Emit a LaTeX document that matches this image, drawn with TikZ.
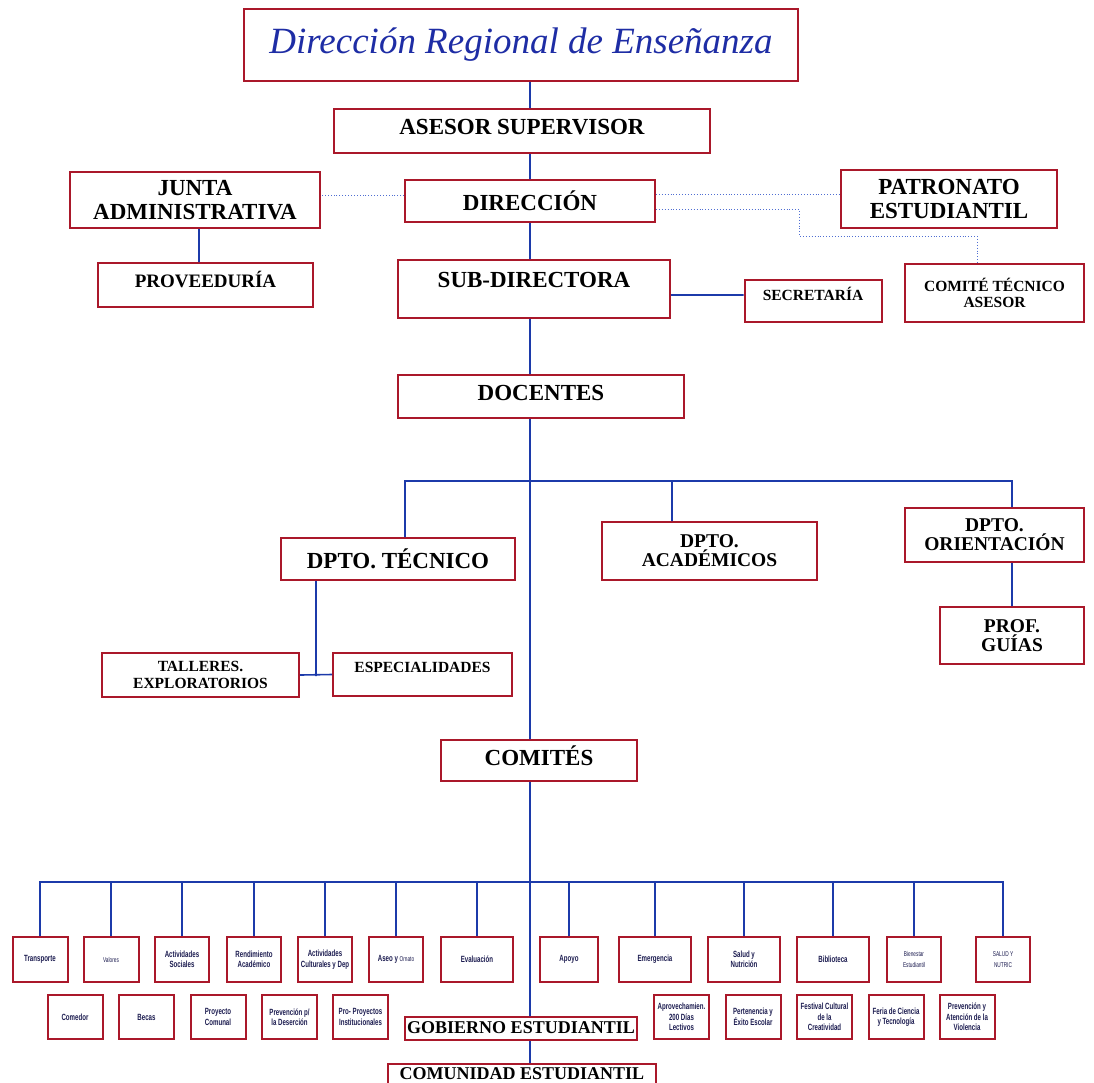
\documentclass[tikz,border=0pt]{standalone}
\usepackage{fontspec}
\setmainfont{Liberation Serif}
\newfontfamily\tituloface{Liberation Serif}
\newfontfamily\comitefont[FakeStretch=0.68]{Liberation Sans}
\newcommand\lightfont{\mdseries\fontsize{7}{8}\selectfont}

\definecolor{rojo}{RGB}{170,24,42}
\definecolor{azul}{RGB}{28,58,170}
\definecolor{azultit}{RGB}{30,45,165}
\definecolor{marino}{RGB}{28,28,80}
\definecolor{punteado}{RGB}{80,110,210}

\tikzstyle{box}=[draw=rojo,line width=2pt,fill=white,inner sep=0pt,align=center,text=black]
\tikzstyle{big}=[font=\bfseries\fontsize{23}{24}\selectfont]
\tikzstyle{mid}=[font=\bfseries\fontsize{19.5}{19}\selectfont]
\tikzstyle{sm}=[font=\bfseries\fontsize{15.5}{16.5}\selectfont]
\tikzstyle{sbox}=[box,minimum height=45,text=marino,font=\comitefont\bfseries\fontsize{9}{10.5}\selectfont]
\tikzstyle{conn}=[draw=azul,line width=1.6pt]
\tikzstyle{dots}=[draw=punteado,line width=0.9pt,dotted]

\begin{document}
\begin{tikzpicture}[x=1pt,y=-1pt]
\useasboundingbox (0,0) rectangle (1094,1082);

        % cabecera
        \node[box,minimum width=554,minimum height=72,text=azultit,font=\tituloface\itshape\fontsize{37}{39}\selectfont] (titulo) at (521,45) {Dirección Regional de Enseñanza};
        \node[box,big,minimum width=376,minimum height=44,text height=25,text depth=19] (asesor) at (522,131) {ASESOR SUPERVISOR};

        \node[box,big,minimum width=250,minimum height=56] (junta) at (195,200) {JUNTA\\ADMINISTRATIVA};
        \node[box,big,minimum width=250,minimum height=42] (dir) at (530,201) {DIRECCIÓN};
        \node[box,big,minimum width=216,minimum height=58] (patronato) at (949,199) {PATRONATO\\ESTUDIANTIL};

        \node[box,font=\bfseries\fontsize{19}{20}\selectfont,minimum width=215,minimum height=44,text height=24,text depth=20] (prov) at (205.5,285) {PROVEEDURÍA};
        \node[box,big,minimum width=272,minimum height=58,text height=27,text depth=31] (subdir) at (534,289) {SUB-DIRECTORA};
        \node[box,sm,minimum width=137,minimum height=42,text height=20,text depth=22] (secr) at (813,301) {SECRETARÍA};
        \node[box,sm,minimum width=179,minimum height=58] (comite) at (994.5,293) {COMITÉ TÉCNICO\\ASESOR};

        \node[box,big,minimum width=286,minimum height=43,text height=25,text depth=18] (docentes) at (541,396.5) {DOCENTES};

        % departamentos
        \node[box,big,minimum width=234,minimum height=42] (dtec) at (398,559) {DPTO. TÉCNICO};
        \node[box,mid,minimum width=215,minimum height=58] (dacad) at (709.5,551) {DPTO.\\ACADÉMICOS};
        \node[box,mid,minimum width=179,minimum height=54] (dori) at (994.5,535) {DPTO.\\ORIENTACIÓN};
        \node[box,mid,minimum width=144,minimum height=57] (profg) at (1012,635.5) {PROF.\\GUÍAS};
        \node[box,sm,minimum width=197,minimum height=44] (talleres) at (200.5,675) {TALLERES.\\EXPLORATORIOS};
        \node[box,sm,minimum width=179,minimum height=43,text height=19,text depth=24] (esp) at (422.5,674.5) {ESPECIALIDADES};

        \node[box,big,minimum width=196,minimum height=41,text height=25,text depth=16] (comites) at (539,760.5) {COMITÉS};

        \node[box,font=\bfseries\fontsize{18}{18}\selectfont,minimum width=232,minimum height=23,text height=16,text depth=7] (gobierno) at (521,1028.5) {GOBIERNO ESTUDIANTIL};
        \node[box,font=\bfseries\fontsize{18}{18}\selectfont,minimum width=268,minimum height=20,text height=15,text depth=5] (comunidad) at (522,1074) {COMUNIDAD ESTUDIANTIL};

        \coordinate (dbus) at (530,481);
        \coordinate (cbus) at (530,882);
        \coordinate (tj) at (316,676);

        % comites
        \foreach \n/\x/\w/\t in {
                1/40/55/Transporte,
                2/111/55/\lightfont Valores,
                3/182/54/Actividades\\Sociales,
                4/254/54/Rendimiento\\Académico,
                5/325/54/Actividades\\Culturales y Dep,
                6/396/54/Aseo y \lightfont Ornato,
                7/477/72/Evaluación,
                8/569/58/Apoyo,
                9/655/72/Emergencia,
                10/744/72/Salud y\\Nutrición,
                11/833/72/Biblioteca,
                12/914/54/\lightfont Bienestar\\\lightfont Estudiantil,
                13/1003/54/\lightfont SALUD Y\\\lightfont NUTRIC}{
                \node[sbox,minimum width=\w] (c\n) at (\x,959.5) {\t};
                \draw[conn] (c\n.north) |- (cbus);
        }

        \foreach \n/\x/\t in {
                1/75/Comedor,
                2/146.5/Becas,
                3/218/Proyecto\\Comunal,
                4/289.5/Prevención p\slash\\la Deserción,
                5/360.5/Pro- Proyectos\\Institucionales,
                6/681.5/Aprovechamien.\\200 Días\\Lectivos,
                7/753/Pertenencia y\\Éxito Escolar,
                8/824.5/Festival Cultural\\de la\\Creatividad,
                9/896/Feria de Ciencia\\y Tecnología,
                10/967/Prevención y\\Atención de la\\Violencia}{
                \node[sbox,minimum width=55,minimum height=44] (d\n) at (\x,1017) {\t};
        }

        \draw[conn]
        (titulo.south -| dir) -- (asesor.north -| dir)
        (asesor.south -| dir) -- (dir.north)
        (dir.south) -- (dir.south |- subdir.north)
        (subdir.south -| dir) -- (docentes.north -| dir)
        (docentes.south -| dir) -- (comites.north -| dir)
        (comites.south -| dir) -- (gobierno.north -| dir)
        (gobierno.south -| dir) -- (comunidad.north -| dir)

        ([xshift=4pt]junta.south) -- ([xshift=4pt]junta.south |- prov.north)
        ([yshift=6pt]secr.west) -- ([yshift=6pt]secr.west -| subdir.east)

        ([xshift=7pt]dtec.north) |- (dbus) -| (profg.north |- dori.north)
        ([xshift=-37.5pt]dacad.north) |- (dbus)
        (profg.north) -- (profg.north |- dori.south)

        (tj |- dtec.south) -- (tj)
        (talleres.east) -- (esp.west)
        ;

        \draw[dots]
        ([yshift=6pt]dir.west) -- ([yshift=6pt]dir.west -| junta.east)
        ([yshift=7pt]dir.east) -- ([yshift=7pt]dir.east -| patronato.west)
        ([yshift=-8pt]dir.east) -- ++(143,0) |- ([xshift=-17.5pt,yshift=27pt]comite.north) -- ([xshift=-17.5pt]comite.north)
        ;

\end{tikzpicture}
\end{document}
